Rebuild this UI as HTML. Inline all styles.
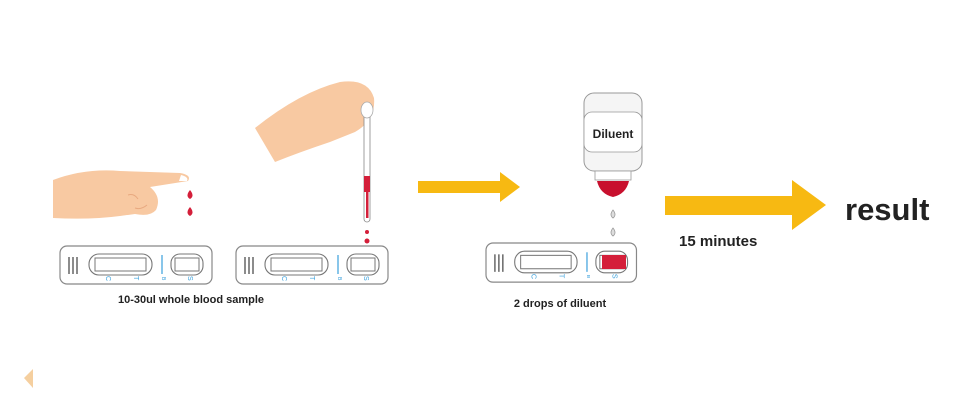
<!DOCTYPE html>
<html><head><meta charset="utf-8"><style>
html,body{margin:0;padding:0;background:#fff;width:971px;height:408px;overflow:hidden}
text{font-family:"Liberation Sans",sans-serif}
</style></head><body>
<svg width="971" height="408" viewBox="0 0 971 408" xmlns="http://www.w3.org/2000/svg">
<defs>
<g id="cas">
<rect x="0" y="0" width="152" height="38" rx="7" fill="#fff" stroke="#888" stroke-width="1.2"/>
<line x1="9" y1="11" x2="9" y2="28" stroke="#666" stroke-width="1.5"/>
<line x1="13" y1="11" x2="13" y2="28" stroke="#666" stroke-width="1.5"/>
<line x1="17" y1="11" x2="17" y2="28" stroke="#666" stroke-width="1.5"/>
<rect x="29" y="8" width="63" height="21" rx="10" fill="#fff" stroke="#777" stroke-width="1.1"/>
<rect x="35" y="12" width="51" height="13" fill="#fff" stroke="#777" stroke-width="1"/>
<line x1="102" y1="9" x2="102" y2="28" stroke="#3aa0dc" stroke-width="1.2"/>
<rect x="111" y="8" width="32" height="21" rx="9" fill="#fff" stroke="#777" stroke-width="1.1"/>
<rect x="115" y="12" width="24" height="13" fill="#fff" stroke="#777" stroke-width="1"/>
<text x="43" y="33" font-size="7" fill="#3aa0dc" transform="rotate(90 46 33)">C</text>
<text x="71" y="33" font-size="7" fill="#3aa0dc" transform="rotate(90 74 33)">T</text>
<text x="100" y="33" font-size="5" fill="#3aa0dc" transform="rotate(90 102 33)">B</text>
<text x="125" y="33" font-size="7" fill="#3aa0dc" transform="rotate(90 128 33)">S</text>
</g>
</defs>
<!-- left hand -->
<path d="M53 180 Q85 168 120 171 L180 173 Q192 175 188 181 L150 187 Q162 197 156 210 Q150 217 135 214 L120 216 Q90 220 53 218 Z" fill="#f8c9a2"/>
<path d="M128 195 q6 -2 10 4 M135 208 q6 2 12 -3" stroke="#e8a980" fill="none"/>
<path d="M181 175 q8 2 6 6 l-8 0 Z" fill="#fff"/>
<path d="M190 190 q5 6 0 9 q-5 -3 0 -9Z M190 207 q5 6 0 9 q-5 -3 0 -9Z" fill="#d41f3a"/>
<!-- right hand -->
<path d="M255 128 Q300 92 340 82 Q368 78 374 98 Q376 120 355 132 L330 142 Q300 152 275 162 Z" fill="#f8c9a2"/>
<rect x="364" y="104" width="6" height="118" rx="3" fill="#fff" stroke="#888" stroke-width="0.8"/>
<rect x="364" y="176" width="6" height="16" fill="#d41f3a"/>
<rect x="366" y="190" width="2.5" height="28" fill="#d41f3a"/>
<circle cx="367" cy="232" r="2" fill="#d41f3a"/><circle cx="367" cy="241" r="2.5" fill="#d41f3a"/>
<ellipse cx="367" cy="110" rx="6" ry="8" fill="#fff" stroke="#aaa" stroke-width="0.8"/>
<use href="#cas" x="60" y="246"/>
<use href="#cas" x="236" y="246"/>
<text x="191" y="303" font-size="11" font-weight="bold" fill="#222" text-anchor="middle">10-30ul whole blood sample</text>
<!-- arrow 1 -->
<path d="M418 181 H500 V172 L520 187 L500 202 V193 H418 Z" fill="#f7b912"/>
<!-- bottle -->
<rect x="584" y="93" width="58" height="78" rx="10" fill="#f5f5f5" stroke="#999" stroke-width="1"/>
<rect x="584" y="112" width="58" height="40" rx="8" fill="#fff" stroke="#999" stroke-width="0.8"/>
<text x="613" y="138" font-size="12" font-weight="bold" fill="#222" text-anchor="middle">Diluent</text>
<rect x="595" y="171" width="36" height="9" fill="#fff" stroke="#999" stroke-width="0.8"/>
<path d="M597 181 H629 Q626 194 613 197 Q600 194 597 181Z" fill="#c8102e"/>
<path d="M613 210 q4 5 0 8 q-4 -3 0 -8Z M613 228 q4 5 0 8 q-4 -3 0 -8Z" fill="#ddd" stroke="#999" stroke-width="0.8"/>
<g transform="translate(486 243) scale(0.99 1.03)"><use href="#cas"/></g>
<rect x="602" y="255" width="24" height="14" fill="#d41f3a"/>
<text x="560" y="307" font-size="11" font-weight="bold" fill="#222" text-anchor="middle">2 drops of diluent</text>
<!-- big arrow -->
<path d="M665 196 H792 V180 L826 205 L792 230 V215 H665 Z" fill="#f7b912"/>
<text x="679" y="246" font-size="15" font-weight="bold" fill="#222">15 minutes</text>
<text x="845" y="220" font-size="31" font-weight="bold" fill="#222">result</text>
<path d="M33 369 L24 378 L33 388 Z" fill="#f5cf9f"/>
</svg>
</body></html>
